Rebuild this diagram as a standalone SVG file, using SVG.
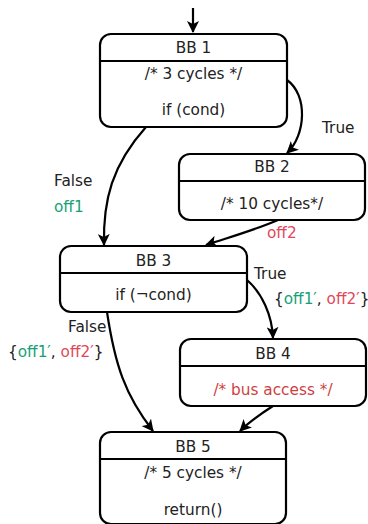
<svg xmlns="http://www.w3.org/2000/svg" width="368" height="524" viewBox="0 0 368 524">
<style>
text{font-family:"DejaVu Sans","Liberation Sans",sans-serif;font-size:15.3px;fill:#222}
.m{text-anchor:middle}
.box{fill:#fff;stroke:#000;stroke-width:2.2}
.sep{stroke:#000;stroke-width:2.2}
.edge{fill:none;stroke:#000;stroke-width:2.2}
.g{fill:#17a077}
.r{fill:#e0485a}
.br{fill:#cf3f3f}
</style>
<defs>
<marker id="ah" viewBox="0 0 12 12" refX="11" refY="6" markerWidth="12" markerHeight="12" markerUnits="userSpaceOnUse" orient="auto">
<path d="M0,0 L12,6 L0,12 L3,6 Z" fill="#000"/>
</marker>
</defs>
<g id="connectors">
<path class="edge" d="M193,8 L193,32" marker-end="url(#ah)"/>
<path class="edge" d="M287,80 C308,95 306,135 287,153" marker-end="url(#ah)"/>
<path class="edge" d="M146,127 C112,165 103,200 104,245" marker-end="url(#ah)"/>
<path class="edge" d="M278,220 C255,230 230,237 206,245" marker-end="url(#ah)"/>
<path class="edge" d="M247,280 C262,293 272,315 273,338" marker-end="url(#ah)"/>
<path class="edge" d="M107,312 C115,365 125,395 153,431" marker-end="url(#ah)"/>
<path class="edge" d="M273,406 C262,413 250,421 240,431" marker-end="url(#ah)"/>
<text x="322" y="133">True</text>
<text x="54" y="186">False</text>
<text x="54" y="212" class="g">off1</text>
<text x="267" y="238" class="r">off2</text>
<text x="254" y="279">True</text>
<text x="274" y="304">{<tspan class="g">off1′</tspan>, <tspan class="r">off2′</tspan>}</text>
<text x="68" y="332">False</text>
<text x="8" y="357">{<tspan class="g">off1′</tspan>, <tspan class="r">off2′</tspan>}</text>
</g>
<g id="bb1">
<rect class="box" x="100" y="34" width="187" height="93" rx="11"/>
<line class="sep" x1="100" y1="61" x2="287" y2="61"/>
<text class="m" x="193.5" y="53">BB 1</text>
<text class="m" x="193.5" y="79">/* 3 cycles */</text>
<text class="m" x="193.5" y="115">if (cond)</text>
</g>
<g id="bb2">
<rect class="box" x="179" y="154" width="186" height="66" rx="11"/>
<line class="sep" x1="179" y1="181" x2="365" y2="181"/>
<text class="m" x="272" y="172">BB 2</text>
<text class="m" x="272" y="209">/* 10 cycles*/</text>
</g>
<g id="bb3">
<rect class="box" x="60" y="246" width="187" height="66" rx="11"/>
<line class="sep" x1="60" y1="273" x2="247" y2="273"/>
<text class="m" x="153.5" y="266">BB 3</text>
<text class="m" x="153.5" y="300">if (¬cond)</text>
</g>
<g id="bb4">
<rect class="box" x="180" y="339" width="186" height="67" rx="11"/>
<line class="sep" x1="180" y1="366" x2="366" y2="366"/>
<text class="m" x="273" y="359">BB 4</text>
<text class="m br" x="273" y="395">/* bus access */</text>
</g>
<g id="bb5">
<rect class="box" x="100" y="432" width="186" height="92" rx="11"/>
<line class="sep" x1="100" y1="459" x2="286" y2="459"/>
<text class="m" x="193" y="452">BB 5</text>
<text class="m" x="193" y="478">/* 5 cycles */</text>
<text class="m" x="193" y="515">return()</text>
</g>
</svg>
